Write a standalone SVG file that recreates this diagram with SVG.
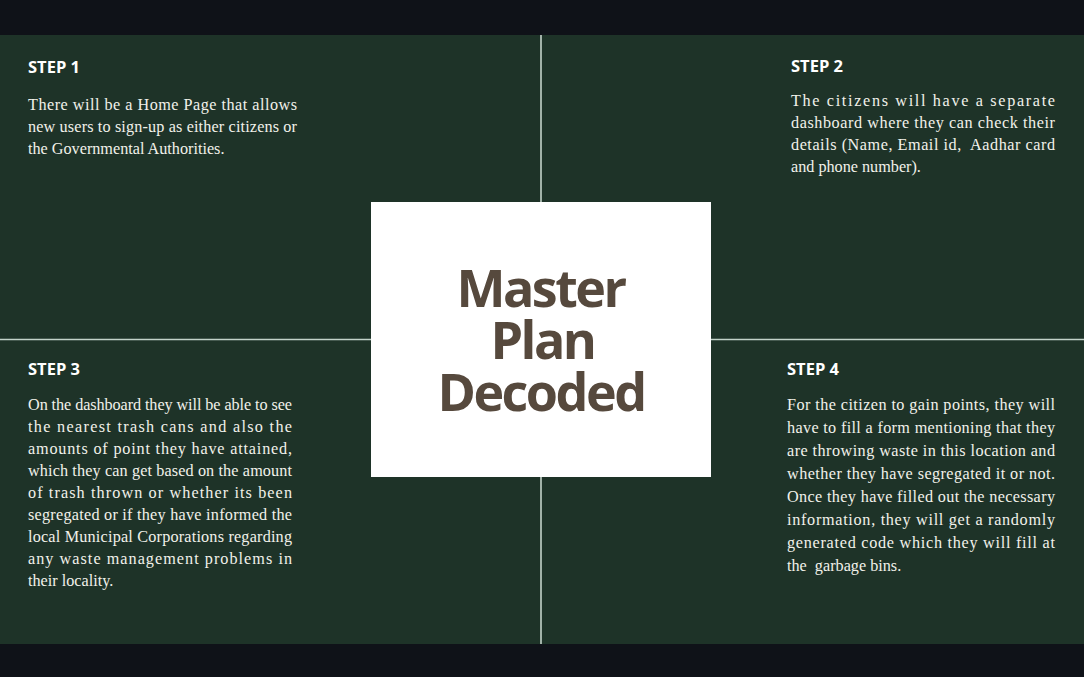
<svg xmlns="http://www.w3.org/2000/svg" width="1084" height="677" viewBox="0 0 1084 677">
<style>
.band{fill:#0f1218}
.panel{fill:#1e3328}
.div{stroke:#c3d3c9;stroke-width:1.6}
.head{font-family:"Open Sans","Noto Sans",sans-serif;font-weight:700;font-size:16.5px;fill:#ffffff}
.body{font-family:"Liberation Serif","DejaVu Serif",serif;font-size:16.2px;fill:#f1f1ea}
.title{font-family:"Open Sans","Noto Sans",sans-serif;font-weight:700;font-size:52px;fill:#56493d;letter-spacing:-2.5px;text-anchor:middle}
</style>
<rect class="band" x="0" y="0" width="1084" height="677"/>
<rect class="panel" x="0" y="35" width="1084" height="609"/>
<g id="connectors">
<line class="div" x1="541" y1="35" x2="541" y2="644"/>
<line class="div" x1="0" y1="339.5" x2="1084" y2="339.5"/>
</g>
<g id="center">
<rect x="371" y="202" width="340" height="275" fill="#ffffff"/>
<text class="title"><tspan x="540.5" y="307">Master</tspan><tspan x="542.5" y="359">Plan</tspan><tspan x="541" y="411">Decoded</tspan></text>
</g>
<g id="step1">
<text class="head" x="28" y="73">STEP 1</text>
<text class="body" x="28" y="110" textLength="269" lengthAdjust="spacing">There will be a Home Page that allows</text>
<text class="body" x="28" y="132" textLength="269" lengthAdjust="spacing">new users to sign-up as either citizens or</text>
<text class="body" x="28" y="154">the Governmental Authorities.</text>
</g>
<g id="step2">
<text class="head" x="791" y="72">STEP 2</text>
<text class="body" x="791" y="106" textLength="264" lengthAdjust="spacing">The citizens will have a separate</text>
<text class="body" x="791" y="128" textLength="264" lengthAdjust="spacing">dashboard where they can check their</text>
<text class="body" x="791" y="150" textLength="264" lengthAdjust="spacing" xml:space="preserve">details (Name, Email id,  Aadhar card</text>
<text class="body" x="791" y="172">and phone number).</text>
</g>
<g id="step3">
<text class="head" x="28" y="375">STEP 3</text>
<text class="body" x="28" y="410" textLength="264" lengthAdjust="spacing">On the dashboard they will be able to see</text>
<text class="body" x="28" y="432" textLength="264" lengthAdjust="spacing">the nearest trash cans and also the</text>
<text class="body" x="28" y="454" textLength="264" lengthAdjust="spacing">amounts of point they have attained,</text>
<text class="body" x="28" y="476" textLength="264" lengthAdjust="spacing">which they can get based on the amount</text>
<text class="body" x="28" y="498" textLength="264" lengthAdjust="spacing">of trash thrown or whether its been</text>
<text class="body" x="28" y="520" textLength="264" lengthAdjust="spacing">segregated or if they have informed the</text>
<text class="body" x="28" y="542" textLength="264" lengthAdjust="spacing">local Municipal Corporations regarding</text>
<text class="body" x="28" y="564" textLength="264" lengthAdjust="spacing">any waste management problems in</text>
<text class="body" x="28" y="586">their locality.</text>
</g>
<g id="step4">
<text class="head" x="787" y="375">STEP 4</text>
<text class="body" x="787" y="410" textLength="268" lengthAdjust="spacing">For the citizen to gain points, they will</text>
<text class="body" x="787" y="433" textLength="268" lengthAdjust="spacing">have to fill a form mentioning that they</text>
<text class="body" x="787" y="456" textLength="268" lengthAdjust="spacing">are throwing waste in this location and</text>
<text class="body" x="787" y="479" textLength="268" lengthAdjust="spacing">whether they have segregated it or not.</text>
<text class="body" x="787" y="502" textLength="268" lengthAdjust="spacing">Once they have filled out the necessary</text>
<text class="body" x="787" y="525" textLength="268" lengthAdjust="spacing">information, they will get a randomly</text>
<text class="body" x="787" y="548" textLength="268" lengthAdjust="spacing">generated code which they will fill at</text>
<text class="body" x="787" y="571" xml:space="preserve">the  garbage bins.</text>
</g>
</svg>
